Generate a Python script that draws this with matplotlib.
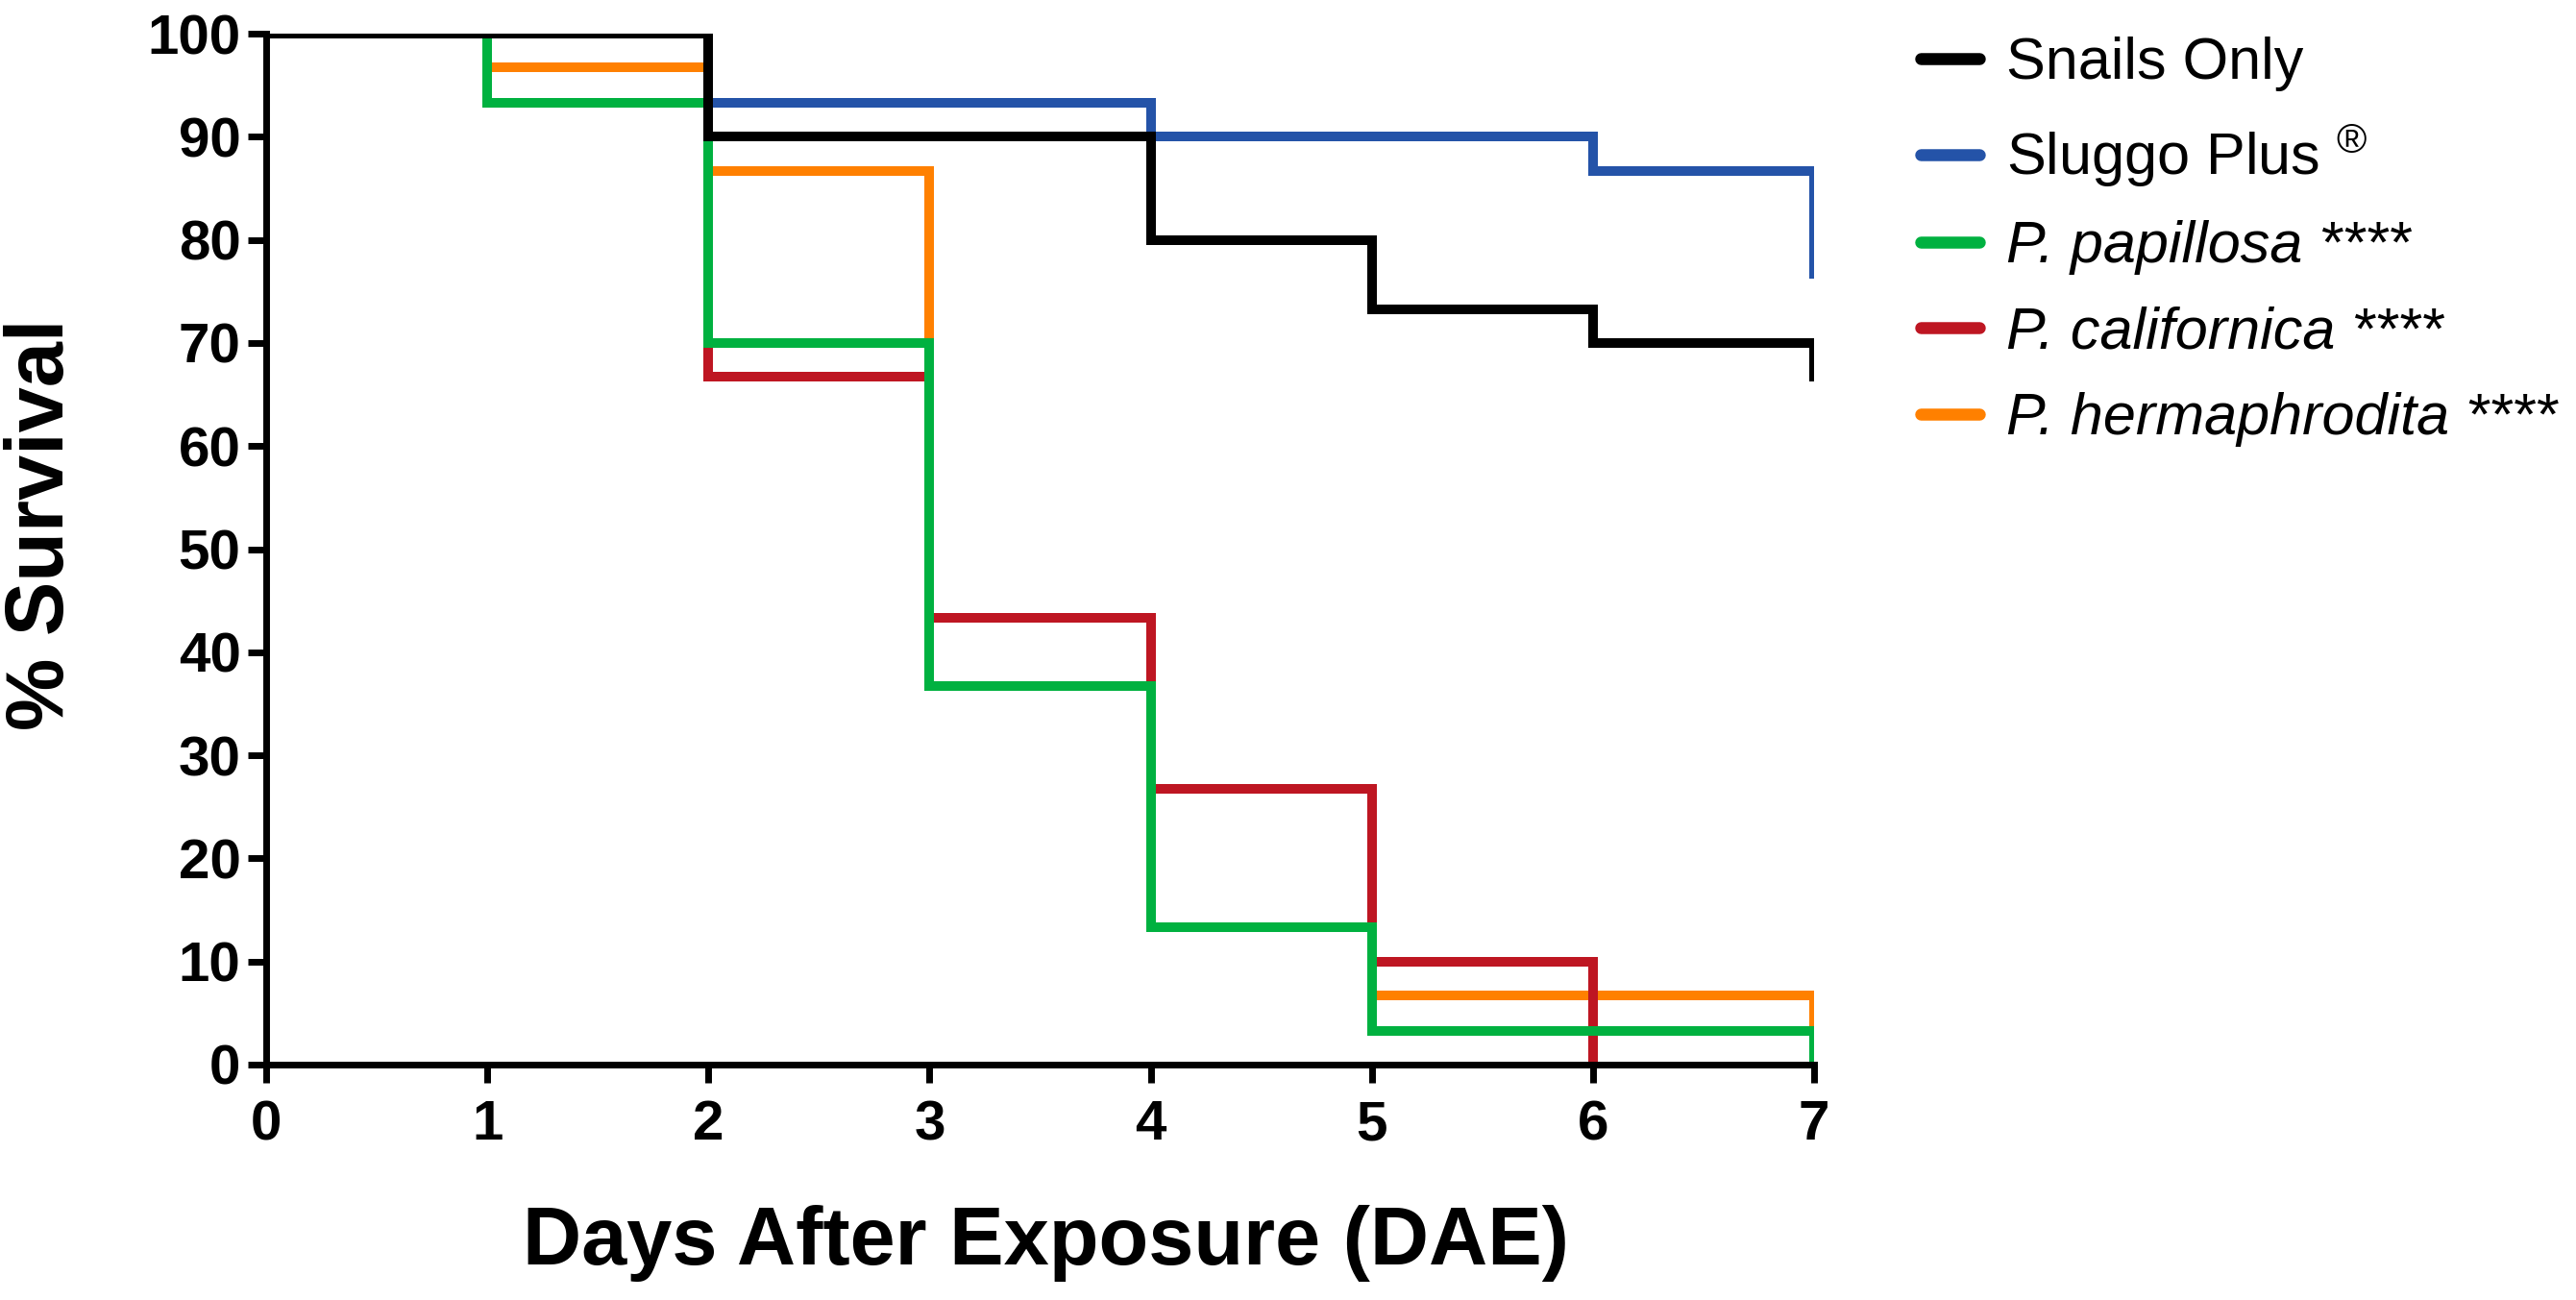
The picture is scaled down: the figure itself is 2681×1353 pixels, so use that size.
import matplotlib
matplotlib.use("Agg")
import matplotlib.pyplot as plt
from matplotlib import ticker

plt.rcParams['font.family'] = ['Liberation Sans', 'DejaVu Sans']
plt.rcParams['mathtext.fontset'] = 'custom'
plt.rcParams['mathtext.rm'] = 'Liberation Sans'
plt.rcParams['mathtext.it'] = 'Liberation Sans:italic'

# Kaplan-Meier survival (%) at each day after exposure
days = [0, 1, 2, 3, 4, 5, 6, 7]
snails_only = [100, 100, 90, 90, 80, 73.3, 70, 66.7]
sluggo_plus = [100, 100, 93.3, 93.3, 90, 90, 86.7, 76.7]
p_papillosa = [100, 93.3, 70, 36.7, 13.3, 3.3, 3.3, 0]
p_californica = [100, 100, 66.7, 43.3, 26.7, 10, 0]
p_hermaphrodita = [100, 96.7, 86.7, 36.7, 13.3, 6.7, 6.7, 3.3]

labels = ["Snails Only",
          r"Sluggo Plus $^{\mathrm{®}}$",
          "P. papillosa ****",
          "P. californica ****",
          "P. hermaphrodita ****"]
italic = [False, False, True, True, True]
colors = ["#000000", "#2453A8", "#00B140", "#BE1622", "#FF8000"]
series = [snails_only, sluggo_plus, p_papillosa, p_californica, p_hermaphrodita]
zorders = [6, 5, 4, 3, 2]

fig = plt.figure(figsize=(13.405, 6.765), dpi=200)
ax = fig.add_axes([0.1033, 0.1811, 0.6009, 0.7930])

handles = []
for vals, lab, col, z in zip(series, labels, colors, zorders):
    h, = ax.step(days[:len(vals)], vals, where='post', color=col,
                 lw=3.6, label=lab, zorder=z, solid_joinstyle='miter')
    handles.append(h)

ax.set_xlim(0, 7)
ax.set_ylim(0, 100)
ax.xaxis.set_major_locator(ticker.MultipleLocator(1))
ax.yaxis.set_major_locator(ticker.MultipleLocator(10))

for side in ['top', 'right']:
    ax.spines[side].set_visible(False)
for side in ['left', 'bottom']:
    ax.spines[side].set_linewidth(2.5)
    ax.spines[side].set_zorder(7)

ax.tick_params(axis='both', width=2.5, length=7, labelsize=21)
ax.tick_params(axis='y', pad=2.5)
ax.tick_params(axis='x', pad=6)
for lbl in ax.get_xticklabels() + ax.get_yticklabels():
    lbl.set_fontweight('bold')

ax.set_xlabel("Days After Exposure (DAE)", fontsize=30.5, fontweight='bold', va='center')
ax.set_ylabel("% Survival", fontsize=30.5, fontweight='bold', va='center')
ax.xaxis.set_label_coords(0.504, -0.173)
ax.yaxis.set_label_coords(-0.1446, 0.524)

leg = fig.legend(handles=handles, loc='upper left',
                 bbox_to_anchor=(1999 / 2681, 1 - 38 / 1353),
                 frameon=False, fontsize=22, handlelength=1.0,
                 handletextpad=0.45, labelspacing=0.53, borderpad=0,
                 borderaxespad=0)
for line in leg.get_lines():
    line.set_linewidth(4.5)
    line.set_solid_capstyle('round')
for txt, it in zip(leg.get_texts(), italic):
    if it:
        txt.set_fontstyle('italic')

fig.savefig('out.png', dpi=200)
